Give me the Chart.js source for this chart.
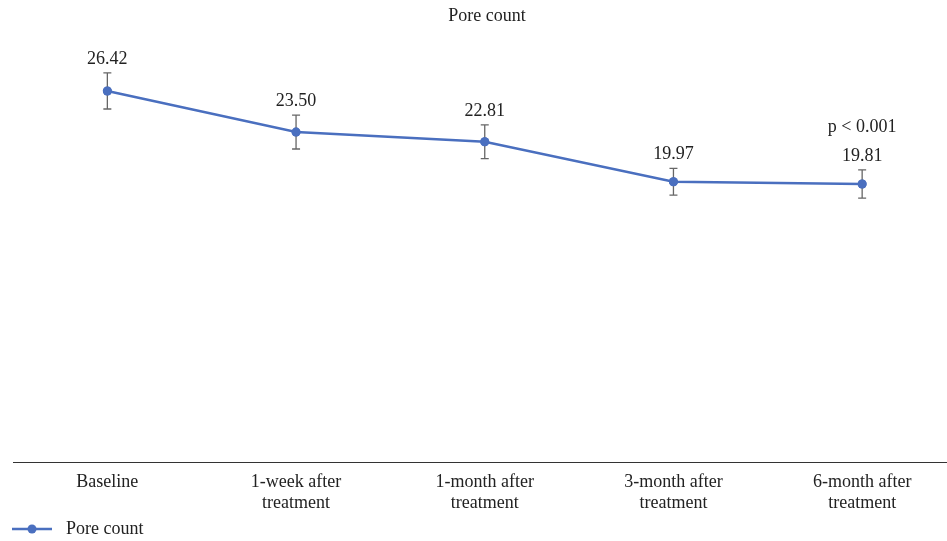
<!DOCTYPE html>
<html>
<head>
<meta charset="utf-8">
<title>Pore count</title>
<script src="https://cdn.jsdelivr.net/npm/chart.js@4.4.1/dist/chart.umd.min.js"></script>
<style>
  html, body { margin: 0; padding: 0; background: #fff; overflow: hidden; }
  canvas { display: block; }
</style>
</head>
<body>
<canvas id="chartPoros" width="961" height="541"></canvas>
<script>
// Datos
const categorias = ['Baseline', ['1-week after', 'treatment'], ['1-month after', 'treatment'],
                    ['3-month after', 'treatment'], ['6-month after', 'treatment']];
const poros = [26.42, 23.50, 22.81, 19.97, 19.81];
const errores = [1.28, 1.2, 1.2, 0.95, 1.0];
const etiquetaP = 'p < 0.001';
const nombreSerie = 'Pore count';

const AZUL = '#4a6fbf';
const FUENTE = "'Liberation Serif', 'DejaVu Serif', serif";

// Barras de error, etiquetas de valor y leyenda
const extrasPlugin = {
  id: 'extras',
  afterDatasetsDraw(chart) {
    const { ctx, scales: { y } } = chart;
    const meta = chart.getDatasetMeta(0);
    ctx.save();
    meta.data.forEach((pt, i) => {
      const top = y.getPixelForValue(poros[i] + errores[i]);
      const bot = y.getPixelForValue(poros[i] - errores[i]);
      ctx.strokeStyle = '#666';
      ctx.lineWidth = 1.3;
      ctx.beginPath();
      ctx.moveTo(pt.x, top); ctx.lineTo(pt.x, bot);
      ctx.moveTo(pt.x - 4, top); ctx.lineTo(pt.x + 4, top);
      ctx.moveTo(pt.x - 4, bot); ctx.lineTo(pt.x + 4, bot);
      ctx.stroke();
      ctx.fillStyle = '#222';
      ctx.font = `18px ${FUENTE}`;
      ctx.textAlign = 'center';
      ctx.textBaseline = 'middle';
      ctx.fillText(poros[i].toFixed(2), pt.x, top - 14);
      if (i === poros.length - 1) ctx.fillText(etiquetaP, pt.x, top - 43);
    });
    // redibuja los puntos por encima de las barras
    meta.data.forEach(pt => {
      ctx.fillStyle = AZUL;
      ctx.beginPath();
      ctx.arc(pt.x, pt.y, 4.5, 0, Math.PI * 2);
      ctx.fill();
    });
    // leyenda
    const ly = 529;
    ctx.strokeStyle = AZUL;
    ctx.lineWidth = 2.5;
    ctx.beginPath();
    ctx.moveTo(12, ly); ctx.lineTo(52, ly);
    ctx.stroke();
    ctx.fillStyle = AZUL;
    ctx.beginPath();
    ctx.arc(32, ly, 4.5, 0, Math.PI * 2);
    ctx.fill();
    ctx.fillStyle = '#222';
    ctx.textAlign = 'left';
    ctx.textBaseline = 'middle';
    ctx.fillText(nombreSerie, 66, ly);
    ctx.restore();
  },
};

new Chart(document.getElementById('chartPoros'), {
  type: 'line',
  data: {
    labels: categorias,
    datasets: [{
      label: nombreSerie,
      data: poros,
      borderColor: AZUL,
      backgroundColor: AZUL,
      borderWidth: 2.5,
      pointRadius: 4.5,
      pointBorderWidth: 0,
      tension: 0,
    }],
  },
  options: {
    responsive: false,
    animation: false,
    layout: { padding: { left: 13, right: 0, top: 0, bottom: 18 } },
    plugins: {
      legend: { display: false },
      tooltip: { enabled: false },
      title: {
        display: true,
        text: 'Pore count',
        color: '#222',
        font: { family: FUENTE, size: 18, weight: 'normal' },
        padding: { top: 5, bottom: 14 },
      },
    },
    scales: {
      x: {
        offset: true,
        grid: { display: false, drawTicks: false },
        border: { display: true, color: '#333', width: 1 },
        ticks: {
          color: '#222',
          padding: 9,
          maxRotation: 0,
          autoSkip: false,
          font: { family: FUENTE, size: 18, lineHeight: 1.17 },
        },
      },
      y: {
        display: false,
        min: 0,
        max: 30,
      },
    },
  },
  plugins: [extrasPlugin],
});
</script>
</body>
</html>
